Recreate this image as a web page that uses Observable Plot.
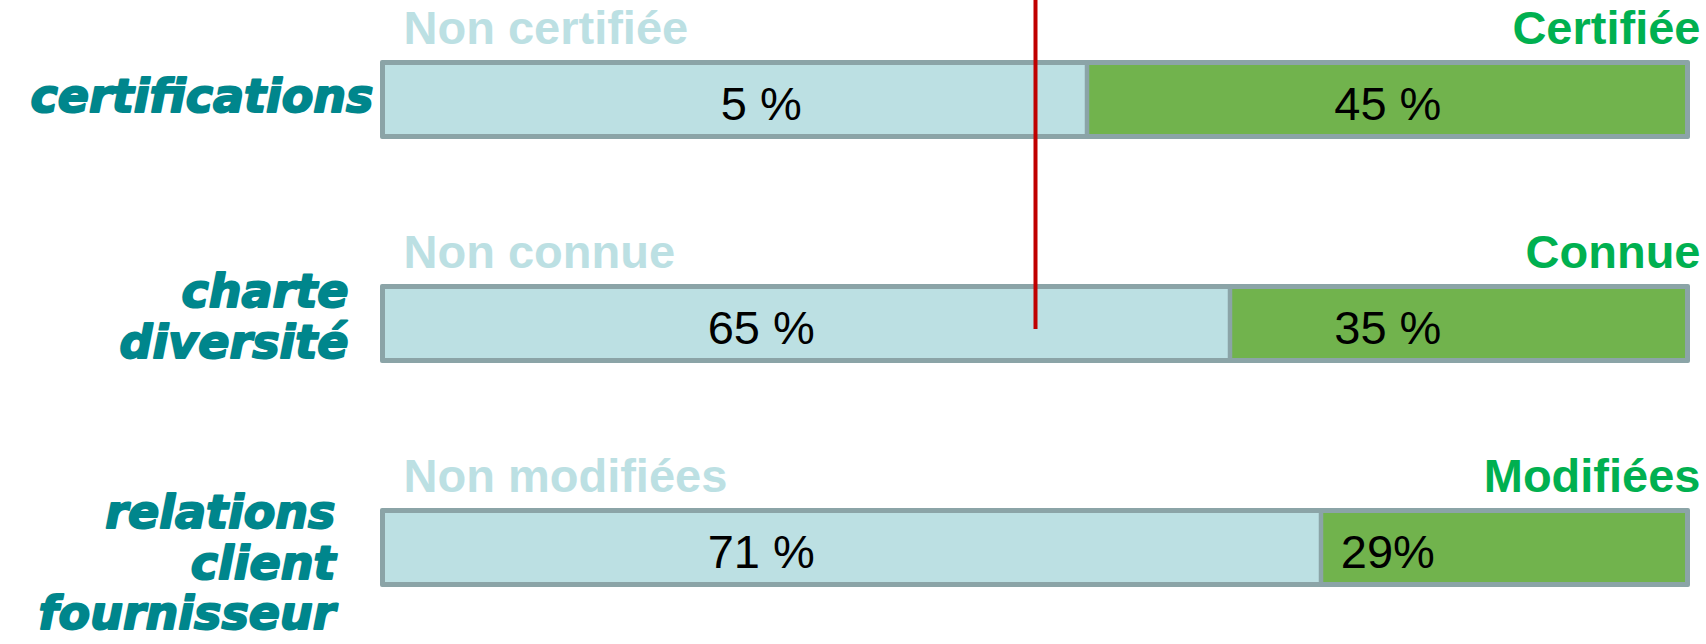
<!DOCTYPE html>
<html><head><meta charset="utf-8">
<script src="https://cdn.jsdelivr.net/npm/d3@7"></script>
<script src="https://cdn.jsdelivr.net/npm/@observablehq/plot@0.6"></script>
<style>
html,body{margin:0;padding:0;background:#fff;}
#chart{width:1706px;height:644px;overflow:hidden;position:relative;}
</style></head><body><div id="chart"></div>
<script>
// ---- data ----
const categories = ["certifications", "charte\ndiversité", "relations\nclient\nfournisseur"];
const negativeLabels = ["Non certifiée", "Non connue", "Non modifiées"];
const positiveLabels = ["Certifiée", "Connue", "Modifiées"];
const negativeShare = [54, 65, 72];   // length of the light segment as drawn
const positiveShare = [46, 35, 28];   // length of the green segment as drawn
const negativeText = ["5 %", "65 %", "71 %"];
const positiveText = ["45 %", "35 %", "29%"];
const referenceLine = [50];

// ---- table built from the arrays ----
const rows = categories.map((cat, i) => ({
  cat,
  neg: negativeShare[i],
  pos: positiveShare[i],
  negLabel: negativeLabels[i],
  posLabel: positiveLabels[i],
  negText: negativeText[i],
  posText: positiveText[i]
}));

// layout nudges for the category labels (dx, dy in px)
const catNudge = [[-12, -24], [-37, -53], [-50, -56]];

const FONT = "'Liberation Sans', Arial, sans-serif";
const catFont = "'DejaVu Sans', sans-serif";

const chart = Plot.plot({
  width: 1706,
  height: 644,
  marginLeft: 385,
  marginRight: 21,
  marginTop: 3,
  marginBottom: 0,
  x: {domain: [0, 100], axis: null},
  y: {domain: categories, axis: null, paddingInner: 0.6933, paddingOuter: 0.2711},
  style: {fontFamily: FONT, background: "transparent", overflow: "visible"},
  marks: [
    // gray frame
    Plot.barX(rows, {y: "cat", x1: () => 0, x2: d => d.neg + d.pos, fill: "#8ba4a7", inset: -5, rx: 2}),
    // light segment
    Plot.barX(rows, {y: "cat", x1: () => 0, x2: "neg", fill: "#bce0e3", insetRight: 2.25}),
    // green segment
    Plot.barX(rows, {y: "cat", x1: "neg", x2: d => d.neg + d.pos, fill: "#71b34d", insetLeft: 2.25}),
    // red reference line (from the top of the page down into the second bar)
    Plot.ruleX(referenceLine, {y1: () => categories[0], y2: () => categories[1],
      stroke: "#c00000", strokeWidth: 4, insetTop: -70, insetBottom: 29}),
    // headers above the bars
    Plot.text(rows, {y: "cat", x: () => 0, text: "negLabel", textAnchor: "start", lineAnchor: "bottom",
      dx: 18, dy: -56, fill: "#bce0e3", fontSize: 47, fontWeight: "bold"}),
    Plot.text(rows, {y: "cat", x: () => 100, text: "posLabel", textAnchor: "end", lineAnchor: "bottom",
      dx: 15, dy: -56, fill: "#00b050", fontSize: 47, fontWeight: "bold"}),
    // percentages
    Plot.text(rows, {y: "cat", x: () => 28.9, text: "negText", textAnchor: "middle", lineAnchor: "bottom",
      dy: 19.5, fill: "#000", fontSize: 47}),
    Plot.text(rows, {y: "cat", x: () => 77.1, text: "posText", textAnchor: "middle", lineAnchor: "bottom",
      dy: 19.5, fill: "#000", fontSize: 47}),
    // category labels
    ...rows.map((r, i) => Plot.text([r], {y: "cat", x: () => 0, text: "cat", textAnchor: "end", lineAnchor: "top",
      lineHeight: 1.1, dx: catNudge[i][0], dy: catNudge[i][1], fill: "#00868c", stroke: "#00868c", strokeWidth: 2,
      fontSize: 46, fontWeight: "bold", fontStyle: "italic", fontFamily: catFont}))
  ]
});
document.getElementById("chart").appendChild(chart);
</script>
</body></html>
